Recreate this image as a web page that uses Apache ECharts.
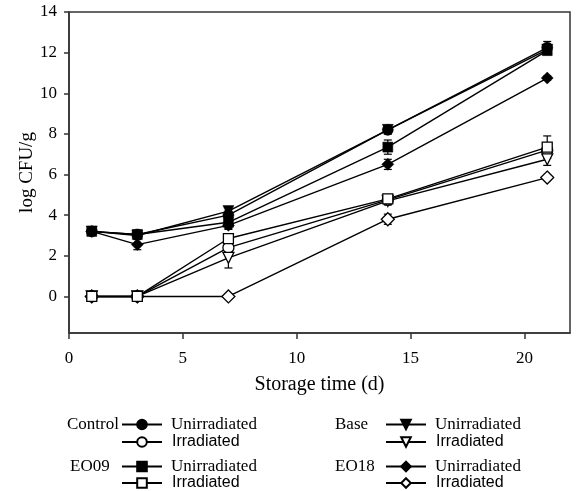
<!DOCTYPE html>
<html>
<head>
<meta charset="utf-8">
<script src="https://cdn.jsdelivr.net/npm/echarts@6/dist/echarts.min.js"></script>
<style>html,body{margin:0;padding:0;background:#fff;}#c{width:577px;height:491px;}</style>
</head>
<body>
<div id="c"></div>
<script>
// ---- data ----
const days = [1, 3, 7, 14, 21];
const controlUnirr = [3.2, 3.05, 4.0, 8.2, 12.25];
const baseUnirr    = [3.2, 3.0, 4.2, 8.2, 12.15];
const eo09Unirr    = [3.2, 3.05, 3.65, 7.35, 12.1];
const eo18Unirr    = [3.2, 2.55, 3.5, 6.5, 10.75];
const controlIrr   = [0, 0, 2.4, 4.75, 7.2];
const baseIrr      = [0, 0, 1.9, 4.7, 6.75];
const eo09Irr      = [0, 0, 2.85, 4.8, 7.35];
const eo18Irr      = [0, 0, 0, 3.8, 5.85];
// standard errors
const controlUnirrErr = [0.15, 0.1, 0.2, 0.2, 0.3];
const baseUnirrErr    = [0.15, 0.1, 0.2, 0.2, 0.2];
const eo09UnirrErr    = [0.1, 0.1, 0.3, 0.35, 0.2];
const eo18UnirrErr    = [0.1, 0.25, 0.2, 0.25, 0.1];
const controlIrrErr   = [0, 0, 0.3, 0.2, 0.2];
const baseIrrErr      = [0, 0, 0.5, 0.2, 0.3];
const eo09IrrErr      = [0, 0, 0.2, 0.2, 0.55];
const eo18IrrErr      = [0, 0, 0, 0.25, 0.1];
const xTicks = [0, 5, 10, 15, 20];
const yTicks = [0, 2, 4, 6, 8, 10, 12, 14];

const SERIF = '"Liberation Serif","Times New Roman",serif';
const SANS = '"Liberation Sans",Arial,sans-serif';

const defs = [
  {name: 'Base Unirradiated', vals: baseUnirr, err: baseUnirrErr, symbol: 'triangle', size: 11, fill: '#000', rot: 180},
  {name: 'Control Unirradiated', vals: controlUnirr, err: controlUnirrErr, symbol: 'circle', size: 11, fill: '#000', rot: 0},
  {name: 'Control Irradiated', vals: controlIrr, err: controlIrrErr, symbol: 'circle', size: 11, fill: '#fff', rot: 0},
  {name: 'Base Irradiated', vals: baseIrr, err: baseIrrErr, symbol: 'triangle', size: 11, fill: '#fff', rot: 180},
  {name: 'EO18 Unirradiated', vals: eo18Unirr, err: eo18UnirrErr, symbol: 'diamond', size: 12, fill: '#000', rot: 0},
  {name: 'EO18 Irradiated', vals: eo18Irr, err: eo18IrrErr, symbol: 'diamond', size: 13, fill: '#fff', rot: 0},
  {name: 'EO09 Unirradiated', vals: eo09Unirr, err: eo09UnirrErr, symbol: 'rect', size: 10, fill: '#000', rot: 0},
  {name: 'EO09 Irradiated', vals: eo09Irr, err: eo09IrrErr, symbol: 'rect', size: 10, fill: '#fff', rot: 0}
];

const series = [];
// error bars
defs.forEach(d => {
  series.push({
    type: 'custom',
    name: d.name + ' err',
    silent: true,
    z: 1,
    data: days.map((x, i) => [x, d.vals[i] - d.err[i], d.vals[i] + d.err[i]]),
    renderItem: function (params, api) {
      const x = api.value(0), lo = api.value(1), hi = api.value(2);
      if (hi - lo < 1e-9) return null;
      const a = api.coord([x, lo]), b = api.coord([x, hi]);
      const w = 4;
      const st = {stroke: '#000', lineWidth: 1.2};
      return {type: 'group', children: [
        {type: 'line', shape: {x1: a[0], y1: a[1], x2: b[0], y2: b[1]}, style: st},
        {type: 'line', shape: {x1: a[0] - w, y1: a[1], x2: a[0] + w, y2: a[1]}, style: st},
        {type: 'line', shape: {x1: b[0] - w, y1: b[1], x2: b[0] + w, y2: b[1]}, style: st}
      ]};
    }
  });
});
defs.forEach(d => {
  series.push({
    type: 'line',
    name: d.name,
    z: 2,
    data: days.map((x, i) => [x, d.vals[i]]),
    symbol: d.symbol,
    symbolSize: d.size,
    symbolRotate: d.rot,
    showAllSymbol: true,
    lineStyle: {color: '#000', width: 1.4},
    itemStyle: {color: d.fill, borderColor: '#000', borderWidth: d.fill === '#fff' ? 1.3 : 0.5},
    emphasis: {disabled: true},
    animation: false
  });
});

const legendRows = [
  {name: 'Control Unirradiated', left: 121, top: 416},
  {name: 'Control Irradiated', left: 121, top: 434},
  {name: 'EO09 Unirradiated', left: 121, top: 458},
  {name: 'EO09 Irradiated', left: 121, top: 475},
  {name: 'Base Unirradiated', left: 385, top: 416},
  {name: 'Base Irradiated', left: 385, top: 434},
  {name: 'EO18 Unirradiated', left: 385, top: 458},
  {name: 'EO18 Irradiated', left: 385, top: 475}
];
const legends = legendRows.map(r => ({
  data: [r.name],
  left: r.left,
  top: r.top,
  padding: 0,
  itemWidth: 40,
  itemHeight: 12,
  selectedMode: false,
  formatter: function (n) {
    const w = n.split(' ')[1];
    return w === 'Unirradiated' ? '{u|' + w + '}' : '{i|' + w + '}';
  },
  textStyle: {
    rich: {
      u: {fontFamily: SERIF, fontSize: 17, color: '#000', padding: [0, 0, 0, 4]},
      i: {fontFamily: SANS, fontSize: 16, color: '#000', padding: [0, 0, 0, 5]}
    }
  }
}));

const groupLabels = [
  {text: 'Control', x: 67, y: 426},
  {text: 'EO09', x: 70, y: 468},
  {text: 'Base', x: 335, y: 426},
  {text: 'EO18', x: 335, y: 468}
];

const chart = echarts.init(document.getElementById('c'), null, {renderer: 'canvas'});
chart.setOption({
  animation: false,
  backgroundColor: '#fff',
  grid: {left: 69, top: 12, width: 501, height: 321, show: true, borderColor: '#333', borderWidth: 1.5, backgroundColor: 'transparent'},
  xAxis: {
    type: 'value', min: 0, max: 22,
    name: 'Storage time (d)', nameLocation: 'middle', nameGap: 42, nameMoveOverlap: false,
    nameTextStyle: {fontFamily: SERIF, fontSize: 20, color: '#000'},
    axisLine: {show: true, onZero: false, lineStyle: {color: '#333', width: 1.5}},
    axisTick: {show: true, inside: false, length: 6, lineStyle: {color: '#333', width: 1.5}, customValues: xTicks},
    axisLabel: {fontFamily: SERIF, fontSize: 17, color: '#000', margin: 17, customValues: xTicks},
    splitLine: {show: false}
  },
  yAxis: {
    type: 'value', min: -1.8, max: 14,
    name: 'log CFU/g', nameLocation: 'middle', nameGap: 32, nameMoveOverlap: false,
    nameTextStyle: {fontFamily: SERIF, fontSize: 19, color: '#000'},
    axisLine: {show: true, onZero: false, lineStyle: {color: '#333', width: 1.5}},
    axisTick: {show: true, inside: false, length: 5, lineStyle: {color: '#333', width: 1.5}, customValues: yTicks},
    axisLabel: {fontFamily: SERIF, fontSize: 17, color: '#000', margin: 12, customValues: yTicks},
    splitLine: {show: false}
  },
  legend: legends,
  graphic: groupLabels.map(g => ({
    type: 'text', left: g.x, top: g.y - 10,
    style: {text: g.text, font: '17px ' + SERIF, fill: '#000'}
  })),
  series: series
});
</script>
</body>
</html>
